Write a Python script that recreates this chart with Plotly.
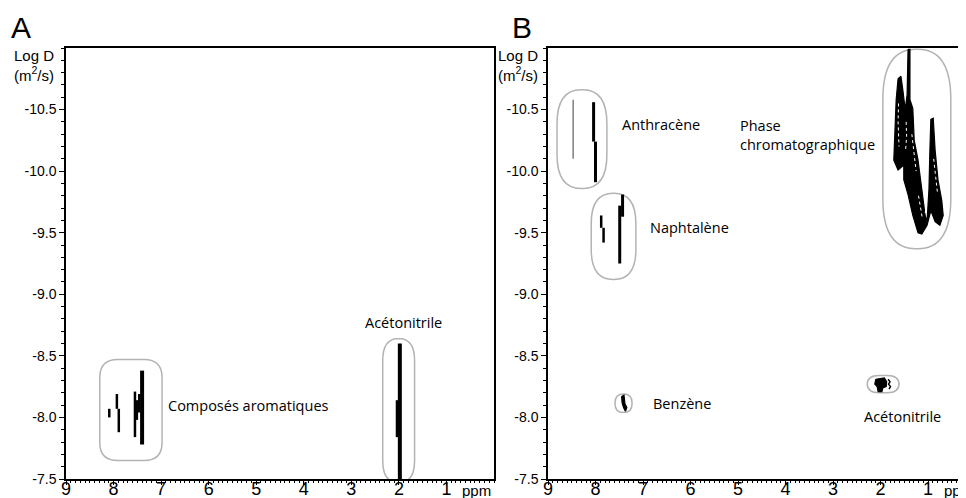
import plotly.graph_objects as go

# ---- data (ppm, log D) ----
# panel A: vertical stripes (ppm, top, bottom)
a_main_ppm = [7.40, 1.98]
a_main_top = [-8.38, -8.60]
a_main_bot = [-7.78, -7.50]
a_side_ppm = [8.09, 7.93, 7.89, 7.55, 7.51, 7.46, 2.04]
a_side_top = [-8.07, -8.19, -8.07, -8.21, -8.14, -8.19, -8.14]
a_side_bot = [-8.00, -8.07, -7.88, -7.84, -7.98, -8.04, -7.84]

# panel B: vertical stripes
b_main_ppm = [8.04, 8.00, 7.49, 7.43]
b_main_top = [-10.56, -10.24, -9.72, -9.81]
b_main_bot = [-10.24, -9.91, -9.25, -9.63]
b_side_ppm = [7.88, 7.83]
b_side_top = [-9.64, -9.54]
b_side_bot = [-9.54, -9.42]
b_grey_ppm = [8.47]
b_grey_top = [-10.58]
b_grey_bot = [-10.10]

# panel B: blobs
phase_ppm = [1.42, 1.38, 1.38, 1.32, 1.29, 1.21, 1.13, 1.06, 1.02, 0.98, 0.96, 0.94,
             0.89, 0.85, 0.79, 0.71, 0.68, 0.75, 0.85, 0.94, 1.02, 1.13, 1.21, 1.32,
             1.42, 1.51, 1.51, 1.63, 1.72, 1.69, 1.67, 1.63, 1.57, 1.53, 1.48, 1.44, 1.42]
phase_logd = [-10.99, -10.99, -10.58, -10.51, -10.25, -10.09, -9.85, -9.64, -9.59, -9.85,
              -10.17, -10.42, -10.43, -10.17, -9.93, -9.76, -9.64, -9.56, -9.59, -9.68,
              -9.56, -9.49, -9.50, -9.64, -9.81, -9.93, -10.05, -10.01, -10.09, -10.33,
              -10.58, -10.75, -10.77, -10.66, -10.50, -10.62, -10.99]
phase_holes_ppm = [[1.34, 1.30, 1.25], [1.20, 1.16, 1.12], [0.88, 0.84, 0.80],
                   [1.62, 1.63, 1.61], [1.46, 1.45, 1.47], [1.06, 1.03]]
phase_holes_logd = [[-10.30, -10.15, -10.00], [-9.80, -9.70, -9.62], [-10.10, -9.95, -9.82],
                    [-10.55, -10.40, -10.20], [-10.40, -10.28, -10.18], [-9.66, -9.70]]
benz_ppm = [7.45, 7.40, 7.38, 7.34, 7.37, 7.41, 7.44, 7.45]
benz_logd = [-8.17, -8.18, -8.11, -8.08, -8.05, -8.08, -8.12, -8.17]
acn_ppm = [2.10, 1.92, 1.87, 1.88, 1.95, 1.97, 2.05, 2.07, 2.12, 2.10]
acn_logd = [-8.31, -8.32, -8.29, -8.25, -8.24, -8.21, -8.21, -8.25, -8.27, -8.31]
acn_tail_ppm = [1.84, 1.80, 1.83, 1.79, 1.82]
acn_tail_logd = [-8.31, -8.29, -8.27, -8.25, -8.23]

# circled regions: (ppm left, ppm right, logD top, logD bottom)
a_groups = [(8.29, 6.98, -8.47, -7.65), (2.34, 1.67, -8.64, -7.47)]
b_groups = [(8.81, 7.76, -10.66, -9.86), (8.09, 7.15, -9.82, -9.12),
            (1.95, 0.52, -10.99, -9.37), (7.59, 7.23, -8.19, -8.04),
            (2.28, 1.61, -8.34, -8.20)]

ytick_vals = [-10.5, -10.0, -9.5, -9.0, -8.5, -8.0, -7.5]
ytick_text = ['-10.5', '-10.0', '-9.5', '-9.0', '-8.5', '-8.0', '-7.5']
xtick_vals = [9, 8, 7, 6, 5, 4, 3, 2, 1]

# page is shown with an 8px body margin, so the figure is 8px smaller
OFF = 8
W, H = 966 - OFF, 498 - OFF
PX_A = 428 / 9.0
PX_B = 418 / 8.8
PX_Y = 431 / 3.5


def fx(xpage):
    return (xpage - OFF) / W


def fy(ypage):
    return (H - (ypage - OFF)) / H


def stripes(ppm, top, bot, xa, ya, width, color='black'):
    xs, ys = [], []
    for p, t, b in zip(ppm, top, bot):
        xs += [p, p, None]
        ys += [t, b, None]
    return go.Scatter(x=xs, y=ys, mode='lines', xaxis=xa, yaxis=ya,
                      line=dict(color=color, width=width), hoverinfo='skip')


def rounded(box, xref, yref, rx_px, ry_px, px_x):
    xl, xh = min(box[0], box[1]), max(box[0], box[1])
    yl, yh = min(box[2], box[3]), max(box[2], box[3])
    rx = rx_px / px_x
    ry = ry_px / PX_Y
    path = (f'M{xl + rx},{yl} L{xh - rx},{yl} Q{xh},{yl} {xh},{yl + ry} '
            f'L{xh},{yh - ry} Q{xh},{yh} {xh - rx},{yh} L{xl + rx},{yh} '
            f'Q{xl},{yh} {xl},{yh - ry} L{xl},{yl + ry} Q{xl},{yl} {xl + rx},{yl} Z')
    return dict(type='path', path=path, xref=xref, yref=yref,
                line=dict(color='#b3b3b3', width=1.5), layer='below')


fig = go.Figure()

fig.add_trace(stripes(a_main_ppm, a_main_top, a_main_bot, 'x', 'y', 4))
fig.add_trace(stripes(a_side_ppm, a_side_top, a_side_bot, 'x', 'y', 2.5))
fig.add_trace(stripes(b_main_ppm, b_main_top, b_main_bot, 'x2', 'y2', 3))
fig.add_trace(stripes(b_side_ppm, b_side_top, b_side_bot, 'x2', 'y2', 2.5))
fig.add_trace(stripes(b_grey_ppm, b_grey_top, b_grey_bot, 'x2', 'y2', 1.5, '#808080'))

for xs, ys in [(phase_ppm, phase_logd), (benz_ppm, benz_logd), (acn_ppm, acn_logd)]:
    fig.add_trace(go.Scatter(x=xs, y=ys, xaxis='x2', yaxis='y2', mode='lines',
                             fill='toself', fillcolor='black',
                             line=dict(color='black', width=1.2), hoverinfo='skip'))
for xs, ys in zip(phase_holes_ppm, phase_holes_logd):
    fig.add_trace(go.Scatter(x=xs, y=ys, xaxis='x2', yaxis='y2', mode='lines',
                             line=dict(color='white', width=1, dash='dot'),
                             hoverinfo='skip'))
fig.add_trace(go.Scatter(x=acn_tail_ppm, y=acn_tail_logd, xaxis='x2', yaxis='y2',
                         mode='lines', line=dict(color='black', width=1.5),
                         hoverinfo='skip'))

shapes = [rounded(a_groups[0], 'x', 'y', 18, 18, PX_A),
          rounded(a_groups[1], 'x', 'y', 16, 22, PX_A),
          rounded(b_groups[0], 'x2', 'y2', 24, 34, PX_B),
          rounded(b_groups[1], 'x2', 'y2', 22, 30, PX_B),
          rounded(b_groups[2], 'x2', 'y2', 33, 50, PX_B),
          rounded(b_groups[3], 'x2', 'y2', 8.5, 9, PX_B),
          rounded(b_groups[4], 'x2', 'y2', 12, 9, PX_B)]

tick_font = dict(family='Liberation Sans, Arial', size=14, color='black')
xaxis_style = dict(
    tickvals=xtick_vals, ticks='outside', ticklen=4, tickwidth=1.2, tickcolor='black',
    minor=dict(dtick=0.1, ticks='outside', ticklen=2, tickcolor='black'),
    showline=True, linecolor='black', linewidth=1.5, mirror=True,
    showgrid=False, zeroline=False, automargin=False, ticklabelstandoff=-11,
    tickfont=dict(family='Liberation Sans, Arial', size=18, color='black'),
)
yaxis_style = dict(
    range=[-7.5, -11.0], tickvals=ytick_vals, ticktext=ytick_text,
    ticks='outside', ticklen=5, tickwidth=1.2, tickcolor='black',
    minor=dict(dtick=0.1, ticks='outside', ticklen=3, tickcolor='black'),
    showline=True, linecolor='black', linewidth=1.5,
    showgrid=False, zeroline=False, automargin=False, tickfont=tick_font,
    domain=[fy(479), fy(48)],
)

annot_font = dict(family='Open Sans', size=14.5, color='black')
annotations = [
    dict(text='Composés aromatiques', x=6.90, y=-8.10, xref='x', yref='y', xanchor='left'),
    dict(text='Acétonitrile', x=1.91, y=-8.77, xref='x', yref='y', xanchor='center'),
    dict(text='Anthracène', x=7.49, y=-10.38, xref='x2', yref='y2', xanchor='left'),
    dict(text='Naphtalène', x=6.90, y=-9.54, xref='x2', yref='y2', xanchor='left'),
    dict(text='Phase<br>chromatographique', x=2.07, y=-10.29, xref='x2', yref='y2',
         xanchor='right', align='left'),
    dict(text='Benzène', x=6.84, y=-8.11, xref='x2', yref='y2', xanchor='left'),
    dict(text='Acétonitrile', x=1.53, y=-8.01, xref='x2', yref='y2', xanchor='center'),
]
for a in annotations:
    a.update(showarrow=False, font=annot_font)

for name, xp in [('A', 9), ('B', 510)]:
    annotations.append(dict(text=name, x=fx(xp), y=fy(27), xref='paper', yref='paper',
                            xanchor='left', yanchor='middle', showarrow=False,
                            font=dict(family='Liberation Sans, Arial', size=30, color='black')))
for xp in [34, 518]:
    annotations.append(dict(text='Log D<br>(m<sup>2</sup>/s)', x=fx(xp), y=fy(66),
                            xref='paper', yref='paper', xanchor='center', yanchor='middle',
                            showarrow=False,
                            font=dict(family='Liberation Sans, Arial', size=15, color='black')))
for xp in [460, 942]:
    annotations.append(dict(text='ppm', x=fx(xp), y=fy(490), xref='paper',
                            yref='paper', xanchor='left', yanchor='middle', showarrow=False,
                            font=dict(family='Liberation Sans, Arial', size=15, color='black')))

fig.update_layout(
    width=W, height=H, margin=dict(l=0, r=0, t=0, b=0, autoexpand=False),
    paper_bgcolor='white', plot_bgcolor='white', showlegend=False,
    xaxis=dict(xaxis_style, range=[9, 0], domain=[fx(66), fx(494)], anchor='y'),
    yaxis=dict(yaxis_style, anchor='x', mirror=True),
    xaxis2=dict(xaxis_style, range=[9, 0.2], domain=[fx(548), 1.0], anchor='y2'),
    yaxis2=dict(yaxis_style, anchor='x2', mirror=False),
    shapes=shapes, annotations=annotations,
)

fig.write_html('out.html')
